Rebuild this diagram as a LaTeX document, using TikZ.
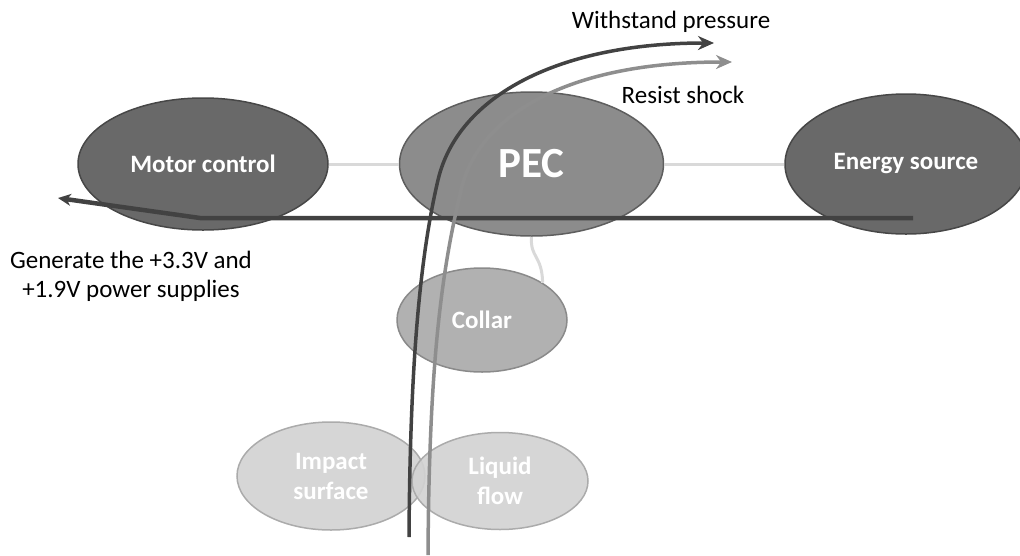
\documentclass[tikz,border=0pt]{standalone}
\usepackage{fontspec}
\setmainfont{Carlito}
\usetikzlibrary{positioning,shapes.geometric,arrows.meta}
\definecolor{blockdark}{HTML}{595959}
\definecolor{blockdarkrim}{HTML}{474747}
\definecolor{blockmid}{HTML}{808080}
\definecolor{blockmidrim}{HTML}{5E5E5E}
\definecolor{blocklight}{HTML}{A8A8A8}
\definecolor{blocklightrim}{HTML}{8A8A8A}
\definecolor{blockpale}{HTML}{D2D2D2}
\definecolor{blockpalerim}{HTML}{ABABAB}
\definecolor{linkgrey}{HTML}{D9D9D9}
\definecolor{flowdark}{HTML}{424242}
\definecolor{flowgrey}{HTML}{8E8E8E}
\tikzset{
  part/.style     = {ellipse, line width=1.5pt, inner sep=0pt, align=center, text=white,
                     fill opacity=0.9, text opacity=1,
                     font=\fontsize{25}{30}\selectfont\bfseries},
  darkpart/.style = {part, draw=blockdarkrim, fill=blockdark},
  midpart/.style  = {part, draw=blockmidrim, fill=blockmid},
  lightpart/.style= {part, draw=blocklightrim, fill=blocklight},
  palepart/.style = {part, draw=blockpalerim, fill=blockpale},
  note/.style     = {align=center, inner sep=0pt, font=\fontsize{25}{29}\selectfont},
  link/.style     = {draw=linkgrey, line width=3pt},
  supply/.style   = {-{Stealth[length=13pt,width=12pt]}, draw=flowdark, line width=4.5pt,
                     line join=round},
  pressure/.style = {-{Stealth[length=16pt,width=14pt]}, draw=flowdark, line width=3.5pt},
  shock/.style    = {-{Stealth[length=16pt,width=14pt]}, draw=flowgrey, line width=3.5pt},
}
\begin{document}
\begin{tikzpicture}[x=1pt, y=-1pt]
  \useasboundingbox (0,0) rectangle (1020,555);

  \node[darkpart, minimum width=250pt, minimum height=132pt] (motor) at (203,164) {Motor control};
  \node[midpart, right=70pt of motor, minimum width=264pt, minimum height=144pt,
        font=\fontsize{43}{50}\selectfont\bfseries] (pec) {PEC};
  \node[darkpart, right=120pt of pec, minimum width=242pt, minimum height=140pt] (energy) {Energy source};
  \node[lightpart, minimum width=170pt, minimum height=104pt] (collar) at (482,320) {Collar};
  \node[palepart, minimum width=188pt, minimum height=108pt] (impact) at (331,476) {Impact\\surface};
  \node[palepart, minimum width=176pt, minimum height=97pt] (liquid) at (500,481) {Liquid\\flow};

  \draw[link] (motor) -- (pec);
  \draw[link] (pec) -- (energy);
  \draw[link] (pec.south) .. controls (530,258) and (542,255) .. (collar.north east);

  \coordinate (supplystart) at (913,218);
  \coordinate (supplybend) at (200,218);
  \coordinate (supplytip) at (58,198);
  \draw[supply] (supplystart) -- (supplybend) -- (supplytip);

  \coordinate (pressurestart) at (409,537);
  \coordinate (pressuremid) at (438,180);
  \coordinate (pressuretip) at (714,43);
  \draw[pressure] (pressurestart) .. controls (410,380) and (418,265) .. (pressuremid)
                  .. controls (458,95) and (560,43) .. (pressuretip);

  \coordinate (shockstart) at (428,555);
  \coordinate (shockmid) at (460,195);
  \coordinate (shocktip) at (732,62);
  \draw[shock] (shockstart) .. controls (429,390) and (438,285) .. (shockmid)
               .. controls (474,120) and (560,62) .. (shocktip);

  \node[note] (pressurelabel) at (671,22) {Withstand pressure};
  \node[note] (shocklabel) at (683,95) {Resist shock};
  \node[note] (supplylabel) at (131,276) {Generate the +3.3V and\\+1.9V power supplies};
\end{tikzpicture}
\end{document}
